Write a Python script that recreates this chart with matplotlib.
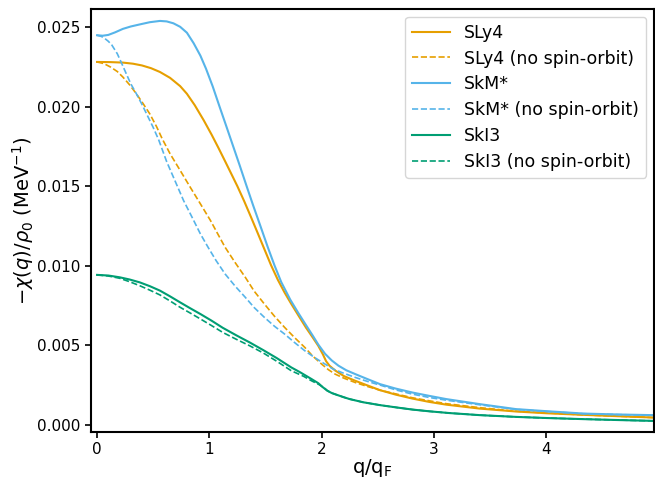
import numpy as np
import matplotlib
matplotlib.use("Agg")
import matplotlib.pyplot as plt

# values: q/qF and -chi(q)/rho0 in MeV^-1
q_sly4 = [0.00, 0.12, 0.23, 0.32, 0.40, 0.48, 0.56, 0.65, 0.74, 0.80, 0.87, 0.95, 1.02,
          1.08, 1.14, 1.20, 1.25, 1.31, 1.37, 1.43, 1.49, 1.55, 1.61, 1.67, 1.73, 1.80,
          1.86, 1.92, 1.97, 2.01, 2.04, 2.07, 2.12, 2.20, 2.30, 2.40, 2.52, 2.66, 2.81,
          2.96, 3.11, 3.41, 3.73, 4.00, 4.33, 4.65, 4.95]
chi_sly4 = [0.02282, 0.02281, 0.02278, 0.02271, 0.02260, 0.02243, 0.02219, 0.02182, 0.02130,
            0.02082, 0.02010, 0.01915, 0.01825, 0.01743, 0.01658, 0.01572, 0.01500, 0.01407,
            0.01308, 0.01207, 0.01105, 0.01003, 0.00912, 0.00832, 0.00760, 0.00680, 0.00612,
            0.00550, 0.00497, 0.00445, 0.00400, 0.00372, 0.00342, 0.00306, 0.00277, 0.00250,
            0.00218, 0.00190, 0.00165, 0.00144, 0.00127, 0.00102, 0.00084, 0.00073, 0.00063,
            0.00054, 0.00046]

q_sly4_noso = [0.00, 0.06, 0.12, 0.18, 0.23, 0.29, 0.35, 0.41, 0.47, 0.53, 0.58, 0.65, 0.74,
               0.83, 0.92, 1.01, 1.07, 1.14, 1.23, 1.32, 1.40, 1.49, 1.58, 1.67, 1.76, 1.85,
               1.92, 2.00, 2.06, 2.12, 2.20, 2.30, 2.40, 2.52, 2.67, 2.81, 2.96, 3.11, 3.41,
               3.73, 4.00, 4.33, 4.65, 4.95]
chi_sly4_noso = [0.02282, 0.02272, 0.02250, 0.02222, 0.02187, 0.02138, 0.02082, 0.02020,
                 0.01955, 0.01875, 0.01799, 0.01705, 0.01600, 0.01494, 0.01390, 0.01285,
                 0.01207, 0.01117, 0.01020, 0.00928, 0.00840, 0.00760, 0.00683, 0.00613,
                 0.00548, 0.00487, 0.00433, 0.00382, 0.00347, 0.00319, 0.00293, 0.00266,
                 0.00243, 0.00218, 0.00193, 0.00170, 0.00151, 0.00133, 0.00108, 0.00086,
                 0.00075, 0.00063, 0.00054, 0.00046]

q_skm = [0.00, 0.05, 0.10, 0.16, 0.23, 0.30, 0.38, 0.47, 0.56, 0.62, 0.68, 0.74, 0.80, 0.86,
         0.92, 0.97, 1.03, 1.09, 1.15, 1.21, 1.27, 1.33, 1.39, 1.45, 1.52, 1.58, 1.64, 1.72,
         1.79, 1.86, 1.92, 1.97, 2.03, 2.09, 2.15, 2.22, 2.30, 2.40, 2.52, 2.66, 2.81, 2.96,
         3.11, 3.41, 3.73, 4.00, 4.33, 4.65, 4.95]
chi_skm = [0.02450, 0.02447, 0.02452, 0.02468, 0.02490, 0.02505, 0.02518, 0.02532, 0.02540,
           0.02537, 0.02525, 0.02503, 0.02466, 0.02400, 0.02322, 0.02240, 0.02128, 0.02003,
           0.01880, 0.01756, 0.01632, 0.01505, 0.01380, 0.01260, 0.01118, 0.01003, 0.00898,
           0.00788, 0.00706, 0.00628, 0.00562, 0.00505, 0.00447, 0.00405, 0.00372, 0.00343,
           0.00319, 0.00290, 0.00256, 0.00228, 0.00203, 0.00182, 0.00162, 0.00130, 0.00099,
           0.00086, 0.00071, 0.00065, 0.00061]

q_skm_noso = [0.00, 0.04, 0.07, 0.10, 0.13, 0.18, 0.22, 0.26, 0.30, 0.35, 0.40, 0.44, 0.50,
              0.55, 0.62, 0.70, 0.77, 0.85, 0.92, 0.99, 1.06, 1.14, 1.23, 1.32, 1.40, 1.49,
              1.58, 1.67, 1.76, 1.85, 1.94, 2.03, 2.10, 2.18, 2.30, 2.40, 2.52, 2.67, 2.81,
              2.96, 3.11, 3.41, 3.73, 4.00, 4.33, 4.65, 4.95]
chi_skm_noso = [0.02450, 0.02442, 0.02429, 0.02412, 0.02390, 0.02334, 0.02272, 0.02208,
                0.02145, 0.02082, 0.02015, 0.01957, 0.01870, 0.01790, 0.01655, 0.01525,
                0.01411, 0.01300, 0.01201, 0.01115, 0.01033, 0.00949, 0.00872, 0.00802,
                0.00737, 0.00676, 0.00620, 0.00571, 0.00517, 0.00466, 0.00422, 0.00382,
                0.00352, 0.00329, 0.00298, 0.00275, 0.00250, 0.00218, 0.00193, 0.00172,
                0.00155, 0.00126, 0.00097, 0.00084, 0.00070, 0.00064, 0.00060]

q_ski3 = [0.00, 0.10, 0.20, 0.29, 0.38, 0.47, 0.56, 0.65, 0.74, 0.83, 0.92, 1.02, 1.12,
          1.24, 1.36, 1.48, 1.60, 1.73, 1.81, 1.91, 1.97, 2.01, 2.05, 2.09, 2.13, 2.20,
          2.25, 2.37, 2.52, 2.67, 2.81, 2.96, 3.14, 3.41, 3.73, 4.00, 4.33, 4.65, 4.95]
chi_ski3 = [0.00943, 0.00939, 0.00928, 0.00914, 0.00896, 0.00872, 0.00844, 0.00808, 0.00770,
            0.00733, 0.00697, 0.00655, 0.00610, 0.00563, 0.00518, 0.00470, 0.00420, 0.00361,
            0.00330, 0.00288, 0.00262, 0.00237, 0.00215, 0.00200, 0.00190, 0.00173, 0.00162,
            0.00142, 0.00124, 0.00109, 0.00096, 0.00085, 0.00074, 0.00061, 0.00050, 0.00043,
            0.00036, 0.00030, 0.00025]

q_ski3_noso = [0.00, 0.10, 0.20, 0.29, 0.38, 0.47, 0.56, 0.65, 0.74, 0.83, 0.92, 1.02, 1.12,
               1.24, 1.36, 1.48, 1.60, 1.73, 1.84, 1.91, 1.98, 2.03, 2.05, 2.09, 2.13, 2.20,
               2.25, 2.37, 2.52, 2.67, 2.81, 2.96, 3.14, 3.41, 3.73, 4.00, 4.33, 4.65, 4.95]
chi_ski3_noso = [0.00943, 0.00936, 0.00922, 0.00900, 0.00875, 0.00847, 0.00817, 0.00779,
                 0.00739, 0.00703, 0.00666, 0.00624, 0.00581, 0.00538, 0.00497, 0.00452,
                 0.00400, 0.00340, 0.00305, 0.00277, 0.00252, 0.00228, 0.00215, 0.00200,
                 0.00190, 0.00173, 0.00162, 0.00142, 0.00124, 0.00109, 0.00096, 0.00085,
                 0.00074, 0.00061, 0.00050, 0.00043, 0.00036, 0.00030, 0.00025]

xticks = [0, 1, 2, 3, 4]
yticks = [0.000, 0.005, 0.010, 0.015, 0.020, 0.025]

orange = '#E69F00'
blue = '#56B4E9'
green = '#009E73'

plt.rcParams['axes.linewidth'] = 1.5

fig = plt.figure(figsize=(6.55, 4.8), dpi=100)
ax = fig.add_axes([91 / 655, 1 - 432 / 480, 563 / 655, 423 / 480])

ax.plot(q_sly4, chi_sly4, color=orange, lw=1.5, label='SLy4')
ax.plot(q_sly4_noso, chi_sly4_noso, color=orange, lw=1.2, ls='--', label='SLy4 (no spin-orbit)')
ax.plot(q_skm, chi_skm, color=blue, lw=1.5, label='SkM*')
ax.plot(q_skm_noso, chi_skm_noso, color=blue, lw=1.2, ls='--', label='SkM* (no spin-orbit)')
ax.plot(q_ski3, chi_ski3, color=green, lw=1.5, label='SkI3')
ax.plot(q_ski3_noso, chi_ski3_noso, color=green, lw=1.2, ls='--', label='SkI3 (no spin-orbit)')

ax.set_xlim(-0.054, 4.96)
ax.set_ylim(-0.00045, 0.02615)
ax.set_xticks(xticks)
ax.set_yticks(yticks)
ax.set_yticklabels(['%.3f' % v for v in yticks])
ax.tick_params(labelsize=11, width=1.2, length=4)

ax.set_xlabel(r'q/q$_\mathrm{F}$', fontsize=14, labelpad=0)
ax.set_ylabel(r'$-\chi(q)/\rho_0$ (MeV$^{-1}$)', fontsize=14, labelpad=1)

ax.legend(loc='upper right', fontsize=12.5, labelspacing=0.45, handlelength=2.2,
          borderaxespad=0.45)

fig.savefig('out.png', dpi=100)
